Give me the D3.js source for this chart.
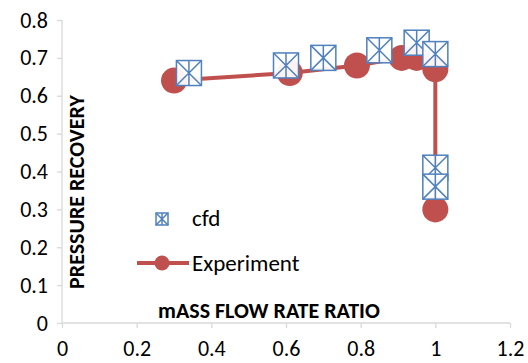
<!DOCTYPE html>
<html>
<head>
<meta charset="utf-8">
<script src="https://cdn.jsdelivr.net/npm/d3@7"></script>
<style>
  body { margin: 0; background: #fff; }
  svg { display: block; font-family: Carlito, "Open Sans", "Liberation Sans", sans-serif; }
</style>
</head>
<body>
<div id="chart"></div>
<script>
// data
const expX = [0.30, 0.61, 0.79, 0.91, 0.95, 1.00, 1.00];
const expY = [0.64, 0.66, 0.68, 0.70, 0.70, 0.67, 0.30];
const cfdX = [0.34, 0.60, 0.70, 0.85, 0.95, 1.00, 1.00, 1.00];
const cfdY = [0.66, 0.68, 0.70, 0.72, 0.74, 0.71, 0.41, 0.36];
const xTicks = [0, 0.2, 0.4, 0.6, 0.8, 1, 1.2];
const yTicks = [0, 0.1, 0.2, 0.3, 0.4, 0.5, 0.6, 0.7, 0.8];

const width = 528, height = 363;
const red = "#c0504d", blue = "#4f81bd", axisGray = "#d9d9d9";
const font = "Carlito, 'Open Sans', 'Liberation Sans', sans-serif";

const svg = d3.select("#chart").append("svg")
    .attr("width", width)
    .attr("height", height);

const x = d3.scaleLinear().domain([0, 1.2]).range([62, 510]);
const y = d3.scaleLinear().domain([0, 0.8]).range([323, 20]);

// axes
const xAxis = svg.append("g")
    .attr("transform", `translate(0,${y(0)})`)
    .call(d3.axisBottom(x).tickValues(xTicks).tickSize(5).tickPadding(12)
        .tickFormat(d => d3.format("")(d)));
const yAxis = svg.append("g")
    .attr("transform", `translate(${x(0)},0)`)
    .call(d3.axisLeft(y).tickValues(yTicks).tickSize(5).tickPadding(9)
        .tickFormat(d => d3.format("")(d)));

[xAxis, yAxis].forEach(a => {
    a.select(".domain").attr("stroke", axisGray).attr("stroke-width", 1.3);
    a.selectAll(".tick line").attr("stroke", axisGray).attr("stroke-width", 1.3);
    a.selectAll(".tick text").attr("fill", "#000").style("font-size", "22px")
        .style("font-family", font);
});
xAxis.select(".domain").attr("d", `M${x(0)},0H${x(1.2)}`);
yAxis.select(".domain").attr("d", `M0,${y(0)}V${y(0.8)}`);
xAxis.selectAll(".tick text").attr("dy", "0.72em");

// axis titles
svg.append("text")
    .attr("x", 158).attr("y", 318)
    .style("font-size", "22px").style("font-weight", "bold")
    .text("mASS FLOW RATE RATIO");
svg.append("text")
    .attr("transform", "translate(84,192) rotate(-90)")
    .attr("text-anchor", "middle")
    .style("font-size", "22px").style("font-weight", "bold")
    .text("PRESSURE RECOVERY");

// experiment series
const expData = expX.map((v, i) => ({x: v, y: expY[i]}));
svg.append("path")
    .datum(expData)
    .attr("fill", "none")
    .attr("stroke", red)
    .attr("stroke-width", 4)
    .attr("d", d3.line().x(d => x(d.x)).y(d => y(d.y)));
svg.append("g").selectAll("circle")
    .data(expData)
    .join("circle")
    .attr("cx", d => x(d.x))
    .attr("cy", d => y(d.y))
    .attr("r", 13)
    .attr("fill", red);

// cfd markers: box with an asterisk
function drawCfd(g, s) {
    const h = s / 2;
    g.append("rect").attr("x", -h).attr("y", -h).attr("width", s).attr("height", s)
        .attr("fill", "rgba(255,255,255,0.93)").attr("stroke", blue).attr("stroke-width", 1.5);
    g.append("path")
        .attr("d", `M${-h},${-h}L${h},${h}M${h},${-h}L${-h},${h}M0,${-h}V${h}`)
        .attr("stroke", blue).attr("stroke-width", 1.5).attr("fill", "none");
}
const cfdData = cfdX.map((v, i) => ({x: v, y: cfdY[i]}));
svg.append("g").selectAll("g")
    .data(cfdData)
    .join("g")
    .attr("transform", d => `translate(${x(d.x)},${y(d.y)})`)
    .each(function () { drawCfd(d3.select(this), 25); });

// legend
const leg1 = svg.append("g").attr("transform", "translate(162,219)");
drawCfd(leg1, 12);
svg.append("text").attr("x", 192).attr("y", 226)
    .style("font-size", "23px").text("cfd");
svg.append("line").attr("x1", 137).attr("x2", 189).attr("y1", 263).attr("y2", 263)
    .attr("stroke", red).attr("stroke-width", 4);
svg.append("circle").attr("cx", 162).attr("cy", 263).attr("r", 7.5).attr("fill", red);
svg.append("text").attr("x", 192).attr("y", 271)
    .style("font-size", "23px").text("Experiment");
</script>
</body>
</html>
